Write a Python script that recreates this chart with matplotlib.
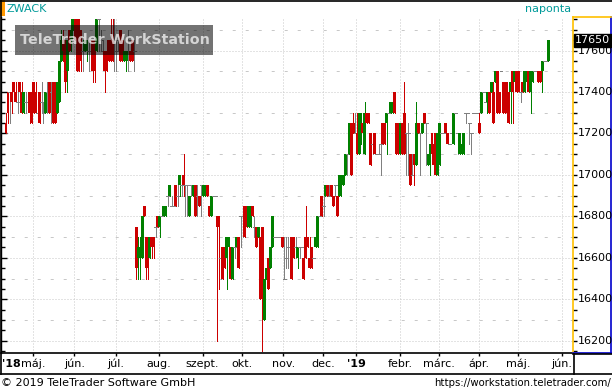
import numpy as np
import pandas as pd
import matplotlib
matplotlib.use("Agg")
import matplotlib.pyplot as plt
from matplotlib.lines import Line2D
from matplotlib.patches import Rectangle
from matplotlib.ticker import MultipleLocator

# ---------------- data ----------------
holidays = ["2018-04-30", "2018-05-01", "2018-05-21", "2018-08-20", "2018-10-22",
            "2018-10-23", "2018-11-01", "2018-11-02", "2018-12-24", "2018-12-25",
            "2018-12-26", "2018-12-31", "2019-01-01", "2019-03-15", "2019-04-19",
            "2019-04-22", "2019-05-01", "2019-06-10"]
start_date = "2018-04-10"
axis_end_date = "2019-06-14"

opens = [17250, 17400, 17400, 17400, 17450, 17400, 17350, 17450, 17400, 17300,
         17350, 17350, 17400, 17400, 17450, 17400, 17300, 17400, 17350, 17300,
         17300, 17400, 17450, 17400, 17450, 17450, 17300, 17350, 17550, 17650,
         17650, 17500, 17700, 17650, 17700, 17750, 17750, 17750, 17700, 17600,
         17600, 17600, 17600, 17650, 17650, 17650, 17600, 17750, 17650, 17600,
         17600, 17600, 17650, 17650, 17650, 17650, 17600, 17650, 17700, 17650,
         17550, 17550, 17650, 17600, 17650, 17600, 16750, 16600, 16600, 16600,
         16850, 16700, 16700, 16600, 16700, 16700, 16750, 16800, 16750, 16800,
         16800, 16800, 16900, 16900, 16850, 16850, 16950, 16900, 16950, 16950,
         17000, 16950, 16950, 16800, 16950, 16900, 16950, 16900, 16900, 16950,
         16900, 16900, 16950, 16850, 16800, 16900, 16900, 16800, 16800, 16600,
         16650, 16650, 16600, 16650, 16650, 16500, 16650, 16650, 16700, 16800,
         16800, 16850, 16850, 16750, 16750, 16850, 16750, 16750, 16700, 16700,
         16750, 16300, 16500, 16600, 16550, 16650, 16700, 16700, 16700, 16700,
         16700, 16500, 16600, 16650, 16650, 16700, 16700, 16650, 16600, 16650,
         16650, 16600, 16700, 16700, 16600, 16650, 16600, 16650, 16650, 16800,
         16900, 16850, 16900, 16950, 16900, 16950, 16900, 16950, 16900, 16900,
         16950, 16950, 17000, 17100, 17100, 17250, 17250, 17200, 17200, 17100,
         17150, 17250, 17100, 17300, 17300, 17200, 17150, 17200, 17100, 17100,
         17150, 17250, 17250, 17250, 17300, 17300, 17300, 17400, 17250, 17250,
         17100, 17250, 17300, 17200, 17200, 17100, 17000, 17100, 17050, 17250,
         17200, 17200, 17300, 17250, 17050, 17050, 17200, 17150, 17200, 17000,
         17050, 17200, 17200, 17250, 17200, 17150, 17200, 17150, 17300, 17200,
         17100, 17100, 17100, 17300, 17300, 17250, 17200, 17300, 17300, 17300,
         17250, 17300, 17400, 17350, 17350, 17400, 17400, 17400, 17450, 17500,
         17400, 17500, 17450, 17450, 17450, 17400, 17400, 17500, 17450, 17500,
         17500, 17400, 17450, 17400, 17450, 17500, 17400, 17450, 17500, 17500,
         17500, 17500, 17500, 17550, 17550, 17550]
highs = [17300, 17400, 17400, 17400, 17450, 17450, 17400, 17450, 17450, 17400,
         17400, 17350, 17400, 17400, 17450, 17450, 17400, 17400, 17450, 17350,
         17400, 17450, 17450, 17450, 17450, 17450, 17450, 17550, 17700, 17700,
         17650, 17650, 17700, 17750, 17750, 17750, 17750, 17750, 17700, 17650,
         17650, 17650, 17650, 17650, 17650, 17650, 17750, 17750, 17700, 17650,
         17600, 17600, 17650, 17750, 17750, 17750, 17650, 17650, 17700, 17650,
         17600, 17600, 17700, 17600, 17650, 17650, 16750, 16700, 16700, 16800,
         16850, 16700, 16700, 16700, 16700, 16700, 16750, 16800, 16800, 16800,
         16850, 16850, 16900, 16950, 16900, 16850, 16950, 17000, 17000, 17000,
         17100, 16950, 16950, 16900, 16950, 16950, 16950, 16950, 16900, 16950,
         16950, 16950, 16950, 16850, 16900, 16900, 16900, 16800, 16800, 16650,
         16650, 16650, 16700, 16700, 16650, 16650, 16650, 16700, 16700, 16800,
         16800, 16850, 16850, 16850, 16850, 16850, 16800, 16750, 16750, 16700,
         16750, 16500, 16550, 16600, 16650, 16800, 16700, 16700, 16700, 16700,
         16700, 16700, 16700, 16700, 16700, 16700, 16700, 16700, 16650, 16650,
         16650, 16600, 16850, 16700, 16700, 16650, 16600, 16700, 16800, 16850,
         16900, 16900, 16950, 16950, 16950, 16950, 16900, 16950, 16900, 17000,
         17000, 17000, 17100, 17100, 17250, 17250, 17300, 17300, 17300, 17300,
         17300, 17250, 17350, 17300, 17300, 17200, 17150, 17200, 17100, 17150,
         17150, 17250, 17250, 17300, 17300, 17350, 17350, 17400, 17250, 17250,
         17250, 17250, 17450, 17200, 17250, 17100, 17100, 17100, 17350, 17250,
         17200, 17250, 17300, 17250, 17100, 17150, 17200, 17150, 17200, 17200,
         17250, 17200, 17250, 17250, 17200, 17150, 17200, 17300, 17300, 17200,
         17200, 17150, 17200, 17300, 17300, 17250, 17200, 17300, 17300, 17300,
         17300, 17400, 17400, 17350, 17400, 17400, 17450, 17450, 17500, 17500,
         17400, 17500, 17450, 17450, 17450, 17400, 17450, 17500, 17500, 17500,
         17500, 17400, 17450, 17500, 17500, 17500, 17500, 17500, 17500, 17500,
         17500, 17500, 17550, 17550, 17550, 17650]
lows = [17200, 17250, 17250, 17300, 17400, 17350, 17300, 17400, 17300, 17300,
        17300, 17350, 17250, 17250, 17300, 17300, 17300, 17250, 17300, 17250,
        17300, 17300, 17300, 17250, 17250, 17250, 17300, 17350, 17550, 17550,
        17400, 17400, 17600, 17600, 17700, 17650, 17500, 17500, 17500, 17500,
        17600, 17550, 17500, 17600, 17450, 17450, 17600, 17600, 17600, 17550,
        17400, 17500, 17550, 17550, 17550, 17500, 17500, 17600, 17550, 17550,
        17550, 17500, 17500, 17550, 17550, 17500, 16500, 16500, 16500, 16600,
        16800, 16500, 16500, 16600, 16600, 16600, 16700, 16750, 16700, 16800,
        16800, 16800, 16850, 16900, 16850, 16850, 16850, 16850, 16900, 16900,
        16900, 16800, 16800, 16800, 16900, 16900, 16800, 16800, 16850, 16800,
        16900, 16900, 16900, 16800, 16800, 16900, 16900, 16200, 16450, 16500,
        16500, 16550, 16450, 16650, 16500, 16500, 16600, 16650, 16550, 16650,
        16700, 16700, 16750, 16750, 16750, 16800, 16700, 16650, 16700, 16400,
        16150, 16300, 16500, 16450, 16550, 16650, 16700, 16700, 16700, 16700,
        16650, 16500, 16550, 16550, 16600, 16500, 16600, 16600, 16550, 16600,
        16650, 16500, 16600, 16650, 16550, 16550, 16600, 16650, 16650, 16800,
        16800, 16800, 16900, 16900, 16900, 16900, 16850, 16900, 16800, 16900,
        16900, 16950, 17000, 17000, 17100, 17000, 17200, 17200, 17100, 17100,
        17150, 17200, 17100, 17250, 17250, 17050, 17100, 17100, 17100, 17100,
        17000, 17150, 17150, 17100, 17300, 17300, 17300, 17300, 17100, 17100,
        17100, 17100, 17100, 17000, 17000, 16950, 17000, 16950, 17050, 17200,
        17000, 17200, 17250, 17050, 17050, 17000, 17100, 17050, 17000, 17000,
        17050, 17200, 17200, 17200, 17150, 17150, 17200, 17150, 17300, 17100,
        17100, 17100, 17100, 17250, 17300, 17150, 17100, 17300, 17300, 17300,
        17200, 17300, 17400, 17350, 17300, 17300, 17400, 17250, 17450, 17300,
        17300, 17500, 17300, 17300, 17300, 17250, 17250, 17250, 17450, 17400,
        17400, 17350, 17400, 17400, 17450, 17400, 17300, 17450, 17500, 17500,
        17450, 17450, 17400, 17550, 17550, 17550]
closes = [17200, 17300, 17400, 17350, 17400, 17350, 17350, 17400, 17300, 17400,
          17350, 17350, 17300, 17250, 17300, 17300, 17300, 17250, 17350, 17300,
          17400, 17400, 17300, 17400, 17250, 17250, 17450, 17550, 17650, 17600,
          17450, 17650, 17600, 17700, 17750, 17650, 17500, 17500, 17550, 17600,
          17650, 17650, 17600, 17650, 17500, 17500, 17750, 17750, 17650, 17600,
          17500, 17500, 17550, 17550, 17550, 17650, 17600, 17650, 17550, 17550,
          17600, 17600, 17650, 17550, 17550, 17600, 16550, 16650, 16650, 16800,
          16800, 16550, 16650, 16700, 16650, 16650, 16750, 16750, 16800, 16800,
          16850, 16850, 16900, 16950, 16850, 16850, 16850, 16900, 17000, 16950,
          16950, 16950, 16950, 16900, 16950, 16950, 16800, 16900, 16850, 16950,
          16950, 16950, 16900, 16800, 16900, 16900, 16900, 16750, 16750, 16600,
          16500, 16550, 16700, 16700, 16500, 16650, 16650, 16700, 16550, 16800,
          16800, 16700, 16750, 16850, 16850, 16800, 16750, 16650, 16750, 16400,
          16400, 16500, 16550, 16450, 16650, 16800, 16700, 16700, 16700, 16700,
          16650, 16500, 16600, 16650, 16650, 16500, 16600, 16650, 16650, 16650,
          16650, 16500, 16600, 16650, 16550, 16550, 16600, 16700, 16800, 16800,
          16800, 16850, 16950, 16900, 16900, 16900, 16850, 16950, 16800, 17000,
          17000, 17000, 17100, 17100, 17250, 17000, 17200, 17200, 17100, 17300,
          17300, 17200, 17300, 17250, 17250, 17050, 17150, 17100, 17100, 17100,
          17150, 17150, 17150, 17300, 17300, 17350, 17350, 17300, 17100, 17100,
          17250, 17100, 17100, 17200, 17200, 16950, 17000, 17050, 17250, 17200,
          17200, 17250, 17250, 17250, 17100, 17150, 17100, 17050, 17000, 17200,
          17250, 17200, 17200, 17200, 17150, 17150, 17200, 17300, 17300, 17200,
          17200, 17150, 17200, 17300, 17300, 17250, 17200, 17300, 17300, 17300,
          17200, 17400, 17400, 17350, 17400, 17300, 17450, 17250, 17500, 17300,
          17300, 17500, 17300, 17300, 17300, 17250, 17450, 17400, 17500, 17400,
          17400, 17400, 17400, 17500, 17500, 17400, 17500, 17500, 17500, 17500,
          17450, 17450, 17550, 17550, 17550, 17650]

month_labels = ["máj.", "jún.", "júl.", "aug.", "szept.", "okt.", "nov.", "dec.",
                "'19", "febr.", "márc.", "ápr.", "máj.", "jún."]
first_year_label = "'18"
price_labels = [16200, 16400, 16600, 16800, 17000, 17200, 17400, 17600]
last_price_label = "17650"
symbol = "ZWACK"
period_label = "naponta"
watermark = "TeleTrader WorkStation"
footer_left = "© 2019 TeleTrader Software GmbH"
footer_right = "https://workstation.teletrader.com/"

# ---------------- style ----------------
GREEN = "#008000"
RED = "#CC0000"
GRAY = "#808080"
GRID = "#C8C8C8"
TEAL = "#009A9A"
PX = 0.72  # one pixel in points at 100 dpi

plt.rcParams['font.family'] = ['DejaVu Sans']
plt.rcParams['lines.scale_dashes'] = False

W, H = 612, 392
fig = plt.figure(figsize=(W / 100, H / 100), dpi=100)
fig.patch.set_facecolor("white")


def fx(x):
    return x / W


def fy(y):
    return 1 - y / H


PLOT_L, PLOT_R, PLOT_T, PLOT_B = 1, 573, 17, 353
ax = fig.add_axes([fx(PLOT_L), fy(PLOT_B), (PLOT_R - PLOT_L) / W, (PLOT_B - PLOT_T) / H])

# trading-day axis
trade_days = pd.bdate_range(start_date, axis_end_date, freq="C", holidays=holidays)
n = len(opens)
idx = np.arange(n)
months = pd.Series(np.arange(len(trade_days)), index=trade_days)
first_days = months.groupby([trade_days.year, trade_days.month]).first()
tick_pos = first_days.values[1:1 + len(month_labels)]

ymin, ymax = 16141, 17762
ax.set_ylim(ymin, ymax)
ax.set_xlim(-2.54, n - 1 + 12.5)

# grid
for p in tick_pos:
    ax.axvline(p - 0.3, color=GRID, lw=PX, linestyle=(0, (PX, 2 * PX)), zorder=1)
for v in np.arange(16200, 17800, 200):
    ax.axhline(v, color=GRID, lw=PX, linestyle=(0, (PX, 2 * PX)), zorder=1)
for v in np.arange(16300, 17800, 200):
    ax.axhline(v, color=GRID, lw=PX, linestyle=(2, (3 * PX, 10 * PX)), zorder=1)

# candles
for i, o, h, l, c in zip(idx, opens, highs, lows, closes):
    col = GREEN if c > o else (RED if c < o else GRAY)
    z = 2 + i * 0.001
    if h > l:
        ax.vlines(i, l, h, colors=col, lw=PX, zorder=z, antialiased=False)
    if c != o:
        ax.bar(i, abs(c - o), bottom=min(o, c), width=1.5, color=col, lw=0,
               zorder=z, antialiased=False)
    else:
        ax.hlines(o, i - 0.75, i + 0.75, colors=col, lw=PX, zorder=z, antialiased=False)

# axes styling
for s in ["top", "right"]:
    ax.spines[s].set_visible(False)
ax.spines["left"].set_linewidth(1.0)
ax.spines["bottom"].set_linewidth(1.2)
ax.yaxis.set_major_locator(MultipleLocator(200))
ax.yaxis.set_minor_locator(MultipleLocator(50))
ax.tick_params(axis="y", which="major", direction="in", length=4, width=1, labelleft=False)
ax.tick_params(axis="y", which="minor", direction="in", length=3, width=1)
ax.set_xticks(tick_pos - 0.3)
ax.set_xticklabels(month_labels)
ax.tick_params(axis="x", direction="out", length=2.5, width=1, pad=1.5, labelsize=8)
for lab, txt in zip(ax.get_xticklabels(), month_labels):
    if txt.startswith("'"):
        lab.set_fontweight("bold")
fig.text(fx(2), fy(364), first_year_label, fontsize=8, fontweight="bold",
         ha="left", va="center")

# right price panel
ax2 = fig.add_axes([fx(PLOT_R), fy(PLOT_B), (611 - PLOT_R) / W, (PLOT_B - PLOT_T) / H])
ax2.set_ylim(ymin, ymax)
ax2.set_xlim(0, 1)
ax2.set_xticks([])
ax2.spines["left"].set_color("#FFC000")
ax2.spines["top"].set_color("#FFC000")
ax2.spines["right"].set_color("#0000CC")
ax2.spines["bottom"].set_color("#0000CC")
for s in ax2.spines.values():
    s.set_linewidth(1.2)
ax2.yaxis.set_major_locator(MultipleLocator(200))
ax2.yaxis.set_minor_locator(MultipleLocator(50))
ax2.tick_params(axis="y", which="both", direction="in", length=3, width=1,
                color="black", labelleft=False)
for v in price_labels:
    ax2.text(0.13, v, str(v), fontsize=8, ha="left", va="center")
ax2.text(0.06, closes[-1], last_price_label, fontsize=8, ha="left", va="center",
         color="white", zorder=5,
         bbox=dict(facecolor="black", edgecolor="black", pad=1.0))

# frame lines
def hline_px(x0, x1, y, lw=1.2, color="black"):
    fig.add_artist(Line2D([fx(x0), fx(x1)], [fy(y), fy(y)], color=color, lw=lw))


def vline_px(x, y0, y1, lw=1.2, color="black"):
    fig.add_artist(Line2D([fx(x), fx(x)], [fy(y0), fy(y1)], color=color, lw=lw))


hline_px(0, W, 0.6)
hline_px(PLOT_R, W, 353.5)
hline_px(0, W, 373.5)
vline_px(0.6, 0, 373.5)
vline_px(PLOT_R + 0.5, 353.5, 373.5)

# header
fig.add_artist(Rectangle((0, fy(16)), fx(5), 16 / H, transform=fig.transFigure,
                         facecolor="#FF9900", edgecolor="none"))
fig.text(fx(7), fy(9), symbol, fontsize=8, color=TEAL, ha="left", va="center")
fig.text(fx(571), fy(9), period_label, fontsize=8, color=TEAL, ha="right", va="center")

# watermark
fig.add_artist(Rectangle((fx(15), fy(55)), (213 - 15) / W, 30 / H, transform=fig.transFigure,
                         facecolor="black", alpha=0.55, edgecolor="none", zorder=10))
fig.text(fx(115), fy(40.5), watermark, fontsize=10.3, fontweight="bold", color="white",
         alpha=0.7, ha="center", va="center", zorder=11)

# footer
fig.text(fx(1), fy(383), footer_left, fontsize=8, ha="left", va="center")
fig.text(fx(611), fy(383), footer_right, fontsize=7.3, ha="right", va="center")

fig.savefig("out.png", dpi=100)
